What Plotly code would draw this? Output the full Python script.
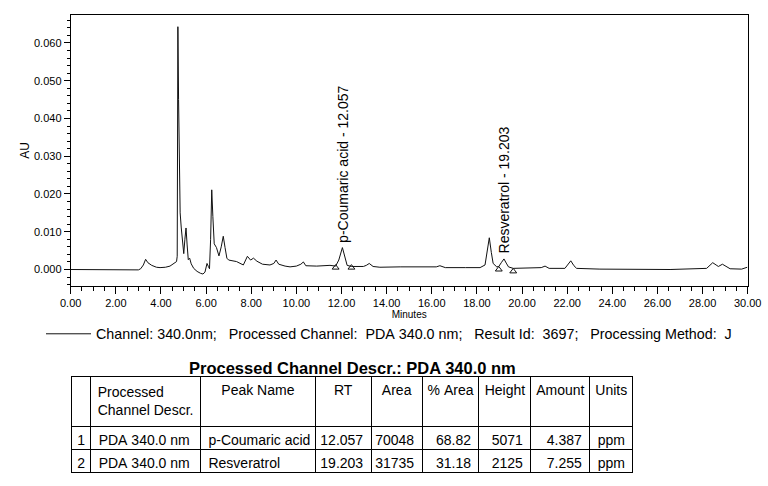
import plotly.graph_objects as go

# ---- chromatogram trace (minutes, AU) ----
t_min = [0.00, 1.00, 2.00, 3.00, 3.10, 3.22, 3.32, 3.42, 3.59, 3.80, 3.96, 4.20, 4.40, 4.60,
         4.69, 4.72, 4.75, 4.78, 4.81, 4.85, 4.90, 4.96, 5.01, 5.06, 5.11, 5.16, 5.21, 5.27,
         5.34, 5.45, 5.60, 5.75, 5.86, 5.95, 6.04, 6.10, 6.15, 6.20, 6.25, 6.30, 6.36, 6.46,
         6.57, 6.67, 6.76, 6.84, 6.92, 7.00, 7.35, 7.65, 7.75, 7.83, 7.97, 8.10, 8.25, 8.50,
         8.83, 9.00, 9.10, 9.22, 9.50, 9.72, 10.00, 10.20, 10.31, 10.42, 10.90, 11.49, 11.74,
         11.88, 12.04, 12.16, 12.25, 12.44, 12.97, 13.10, 13.23, 13.40, 13.70, 14.60, 15.50,
         16.20, 16.36, 16.60, 17.50, 18.14, 18.36, 18.46, 18.55, 18.64, 18.72, 18.88, 18.97,
         19.08, 19.20, 19.30, 19.40, 19.61, 20.35, 20.85, 21.02, 21.20, 21.90, 22.03, 22.16,
         22.30, 22.42, 23.45, 24.34, 26.56, 28.18, 28.30, 28.45, 28.60, 28.70, 28.88, 29.05,
         29.22, 29.73, 29.98]
au = [0.0000, 0.0000, -0.0001, -0.0001, 0.0002, 0.0012, 0.0027, 0.0018, 0.0011, 0.0006, 0.0005,
      0.0006, 0.0009, 0.0016, 0.0021, 0.0035, 0.0643, 0.0450, 0.0250, 0.0150, 0.0110, 0.0075,
      0.0042, 0.0080, 0.0110, 0.0065, 0.0026, 0.0030, 0.0015, 0.0003, -0.0005, -0.0010, -0.0012,
      -0.0007, 0.0016, 0.0008, 0.0002, 0.0080, 0.0211, 0.0140, 0.0068, 0.0058, 0.0036, 0.0060,
      0.0088, 0.0058, 0.0030, 0.0025, 0.0021, 0.0012, 0.0025, 0.0035, 0.0025, 0.0030, 0.0022,
      0.0014, 0.0012, 0.0016, 0.0025, 0.0014, 0.0009, 0.0007, 0.0009, 0.0014, 0.0020, 0.0010,
      0.0009, 0.0011, 0.0009, 0.0025, 0.0058, 0.0030, 0.0011, 0.0008, 0.0008, 0.0011, 0.0016,
      0.0008, 0.0006, 0.0007, 0.0006, 0.0007, 0.0010, 0.0005, 0.0005, 0.0005, 0.0012, 0.0045,
      0.0084, 0.0045, 0.0016, 0.0007, 0.0008, 0.0018, 0.0028, 0.0017, 0.0007, 0.0003, 0.0005,
      0.0005, 0.0009, 0.0003, 0.0003, 0.0012, 0.0023, 0.0010, 0.0003, 0.0001, 0.0001, 0.0000,
      0.0003, 0.0010, 0.0018, 0.0012, 0.0008, 0.0014, 0.0007, 0.0002, 0.0001, 0.0006]

# integration baseline marks (start/end of each integrated peak)
mark_t = [11.74, 12.44, 18.97, 19.61]
mark_au = [0.0005, 0.0005, 0.0000, -0.0005]

# identified peaks
peak_label_au = [0.0058, 0.0028]

# ---- results table ----
peak_no = ["1", "2"]
channel_descr = ["PDA 340.0 nm", "PDA 340.0 nm"]
peak_name = ["p-Coumaric acid", "Resveratrol"]
rt = [12.057, 19.203]
area = [70048, 31735]
pct_area = [68.82, 31.18]
height = [5071, 2125]
amount = [4.387, 7.255]
units = ["ppm", "ppm"]
headers = ["", "Processed<br>Channel Descr.", "Peak Name", "RT", "Area", "% Area",
           "Height", "Amount", "Units"]

legend_text = ("Channel: 340.0nm;   Processed Channel:  PDA 340.0 nm;   "
               "Result Id:  3697;   Processing Method:  J")
table_title = "Processed Channel Descr.: PDA 340.0 nm"

NB = "\u00a0"


def nb(s):
    return s.replace(" ", NB)


FONT = "Arial, Liberation Sans, sans-serif"
W, H = 768, 486

fig = go.Figure()
fig.add_trace(go.Scatter(x=t_min, y=au, mode="lines", name=nb(legend_text),
                         line=dict(color="#111111", width=1), showlegend=True,
                         hoverinfo="skip"))
fig.add_trace(go.Scatter(x=mark_t, y=mark_au, mode="markers", showlegend=False,
                         marker=dict(symbol="triangle-up-open", size=6,
                                     color="#111111", line=dict(width=1))))

for name, t, y in zip(peak_name, rt, peak_label_au):
    fig.add_annotation(x=t, y=y, xref="x", yref="y", text=f"{name} - {t:.3f}",
                       textangle=-90, showarrow=False, xanchor="center",
                       yanchor="bottom", yshift=3,
                       font=dict(family=FONT, size=14, color="black"))

fig.add_trace(go.Table(
    domain=dict(x=[71.7 / W, 633.3 / W], y=[1 - 475 / H, 1 - 376 / H]),
    columnwidth=[19, 110, 115, 56, 51, 57, 52, 59, 43],
    header=dict(values=[nb(h) for h in headers], align="center", height=50,
                line=dict(color="black", width=1), fill=dict(color="white"),
                font=dict(family=FONT, size=14, color="black")),
    cells=dict(values=[peak_no, [nb(c) for c in channel_descr], [nb(p) for p in peak_name],
                       [f"{v:.3f}" for v in rt], [str(v) for v in area],
                       [f"{v:.2f}" for v in pct_area], [str(v) for v in height],
                       [f"{v:.3f}" for v in amount], units],
               align=["center", "left", "left", "right", "right", "right", "right",
                      "right", "left"],
               height=23, line=dict(color="black", width=1), fill=dict(color="white"),
               font=dict(family=FONT, size=14, color="black")),
))

fig.add_annotation(x=(71.7 + 633.3) / 2 / W, y=1 - 368 / H, xref="paper", yref="paper",
                   text=f"<b>{table_title}</b>", showarrow=False, xanchor="center",
                   yanchor="middle", font=dict(family=FONT, size=16.5, color="black"))

fig.update_layout(
    width=W, height=H, margin=dict(l=0, r=0, t=0, b=0, autoexpand=False),
    paper_bgcolor="white", plot_bgcolor="white",
    font=dict(family=FONT, size=11, color="black"),
    showlegend=True,
    legend=dict(orientation="h", x=41 / W, y=1 - 334 / H, xanchor="left",
                yanchor="middle", bgcolor="rgba(0,0,0,0)", itemwidth=45,
                font=dict(family=FONT, size=14.3, color="black")),
    xaxis=dict(domain=[70.7 / W, 747.7 / W], range=[0, 30], dtick=2, tick0=0,
               tickformat=".2f", ticks="outside", ticklen=7, tickcolor="black",
               showline=True, linecolor="black", linewidth=1, mirror=True,
               showgrid=False, zeroline=False, automargin=False,
               minor=dict(dtick=0.5, ticks="outside", ticklen=4, tickcolor="black"),
               title=dict(text="Minutes", font=dict(family=FONT, size=10), standoff=0),
               tickfont=dict(family=FONT, size=11)),
    yaxis=dict(domain=[1 - 285.7 / H, 1 - 15 / H], range=[-0.00429, 0.0674], dtick=0.01,
               tick0=0, tickformat=".3f", ticks="outside", ticklen=6, tickcolor="black",
               showline=True, linecolor="black", linewidth=1, mirror=True,
               showgrid=False, zeroline=False, automargin=False,
               minor=dict(dtick=0.002, ticks="outside", ticklen=3, tickcolor="black"),
               title=dict(text="AU", font=dict(family=FONT, size=12), standoff=1),
               tickfont=dict(family=FONT, size=11)),
)

fig.write_html("out.html")
